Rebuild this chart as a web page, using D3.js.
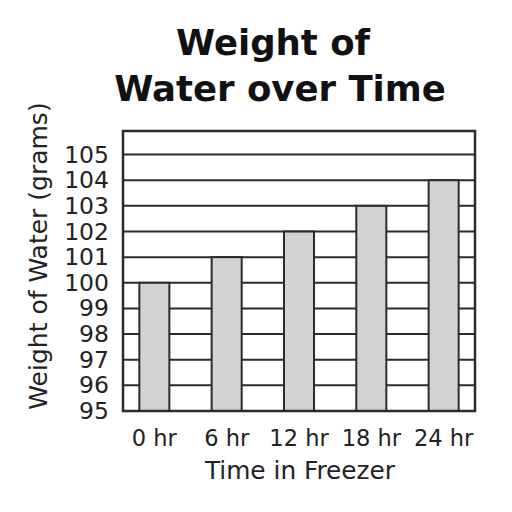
<!DOCTYPE html>
<html>
<head>
<meta charset="utf-8">
<script src="https://cdn.jsdelivr.net/npm/d3@7"></script>
<style>
  html, body { margin: 0; padding: 0; background: #fff; }
  svg { display: block; }
</style>
</head>
<body>
<svg id="chart" width="512" height="512"></svg>
<script>
const categories = ["0 hr", "6 hr", "12 hr", "18 hr", "24 hr"];
const values = [100, 101, 102, 103, 104];
const yTicks = [95, 96, 97, 98, 99, 100, 101, 102, 103, 104, 105];
const titleLines = ["Weight of", "Water over Time"];
const xTitle = "Time in Freezer";
const yTitle = "Weight of Water (grams)";

(function () {
const svg = d3.select("#chart");
const pLeft = 123, pRight = 475, pTop = 131, pBottom = 411;
const ink = "#2b2b2b";
const font = "'DejaVu Sans', Verdana, sans-serif";

const x = d3.scaleBand().domain(categories).range([pLeft, pRight])
  .paddingInner(0.585).paddingOuter(0.226);
const y = d3.scaleLinear().domain([95, 105.92]).range([pBottom, pTop]);

// gridlines
svg.append("g").selectAll("line").data(yTicks).join("line")
  .attr("x1", pLeft).attr("x2", pRight)
  .attr("y1", d => y(d)).attr("y2", d => y(d))
  .attr("stroke", ink).attr("stroke-width", 2);

// bars
svg.append("g").selectAll("rect").data(values).join("rect")
  .attr("x", (d, i) => x(categories[i]))
  .attr("width", x.bandwidth())
  .attr("y", d => y(d))
  .attr("height", d => y(95) - y(d))
  .attr("fill", "#d3d3d3")
  .attr("stroke", ink).attr("stroke-width", 2);

// frame
svg.append("rect").attr("x", pLeft).attr("y", pTop)
  .attr("width", pRight - pLeft).attr("height", pBottom - pTop)
  .attr("fill", "none").attr("stroke", ink).attr("stroke-width", 2.5);

// y axis labels
const yAxis = d3.axisLeft(y).tickValues(yTicks).tickSize(0).tickPadding(14);
const gy = svg.append("g").attr("transform", `translate(${pLeft},0)`).call(yAxis);
gy.select(".domain").remove();
gy.selectAll("text").attr("font-family", font).attr("font-size", 23.5).attr("fill", "#222");

// x axis labels
const xAxis = d3.axisBottom(x).tickSize(0).tickPadding(19);
const gx = svg.append("g").attr("transform", `translate(0,${pBottom})`).call(xAxis);
gx.select(".domain").remove();
gx.selectAll("text").attr("font-family", font).attr("font-size", 22.5).attr("fill", "#222");

// axis titles
svg.append("text").attr("x", 300).attr("y", 479)
  .attr("text-anchor", "middle").attr("font-family", font).attr("font-size", 24.8)
  .attr("fill", "#222").text(xTitle);
svg.append("text").attr("transform", `translate(47,256) rotate(-90)`)
  .attr("text-anchor", "middle").attr("font-family", font).attr("font-size", 25)
  .attr("fill", "#222").text(yTitle);

// title
svg.append("g").selectAll("text").data(titleLines).join("text")
  .attr("x", (d, i) => i === 0 ? 273 : 280).attr("y", (d, i) => 55 + i * 46)
  .attr("text-anchor", "middle").attr("font-family", font).attr("font-weight", "bold")
  .attr("font-size", 35.5).attr("fill", "#111").text(d => d);
})();
</script>
</body>
</html>
